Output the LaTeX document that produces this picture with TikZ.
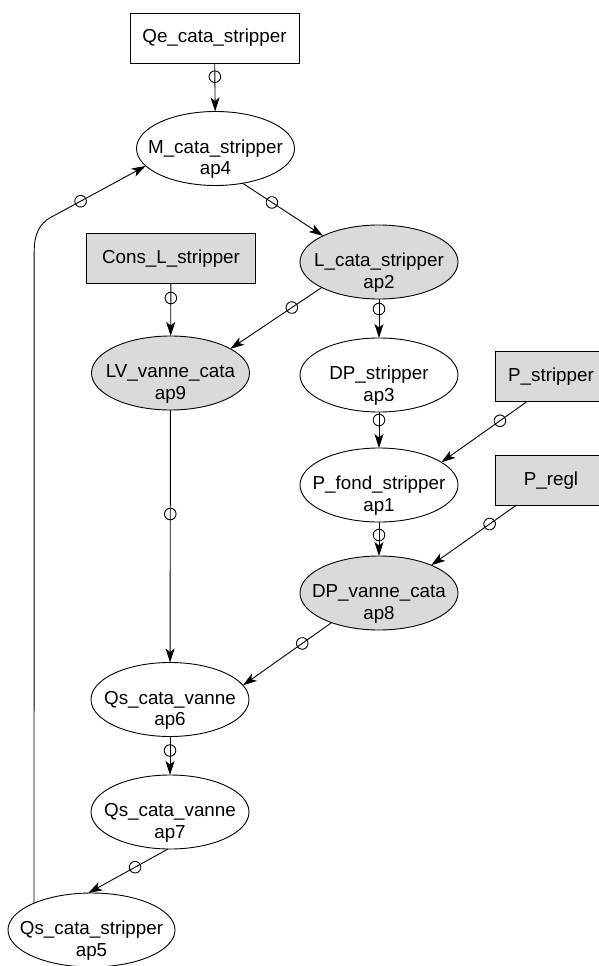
\documentclass[tikz,border=0pt]{standalone}
\usepackage{fontspec}
\setmainfont{Liberation Sans}
\usepackage{xcolor}
\usetikzlibrary{shapes,arrows.meta,decorations.markings}

\definecolor{nodegray}{RGB}{218,218,218}
\newcommand{\apfont}{\fontsize{18.8}{21.7}\selectfont}
\newcommand{\aplabel}[2]{\makebox[0pt]{\raisebox{0pt}[9pt][0pt]{\begin{tabular}[t]{@{}c@{}}#1\\#2\end{tabular}}}}

\begin{document}
\begin{tikzpicture}[
    x=1pt, y=-1pt,
    apnode/.style={ellipse, draw, line width=0.9pt, fill=white, minimum width=158pt, minimum height=74pt, inner sep=0pt, outer sep=0pt, font=\apfont},
    apgray/.style={apnode, fill=nodegray},
    inbox/.style={rectangle, draw, line width=0.9pt, fill=white, minimum width=169pt, minimum height=50pt, inner sep=0pt, outer sep=0pt, text height=10pt, text depth=0pt, font=\apfont},
    inboxgray/.style={inbox, fill=nodegray},
    edge/.style={line width=0.9pt, -{Stealth[length=14pt, width=9pt, inset=3.5pt]}},
    ring at/.style={decoration={markings, mark=at position #1 with {\draw[line width=0.9pt] (0,0) circle (5.8pt);}}, postaction={decorate}}
]
    \useasboundingbox (0,0) rectangle (599,966);
    \clip (0,0) rectangle (599,966);

    \node[inbox] (qe) at (214.5, 38) {Qe\_cata\_stripper};
    \node[apnode] (m) at (215.5, 148.5) {\aplabel{M\_cata\_stripper}{ap4}};
    \node[inboxgray] (consl) at (171, 258) {Cons\_L\_stripper};
    \node[apgray] (l) at (379, 262) {\aplabel{L\_cata\_stripper}{ap2}};
    \node[apgray] (lv) at (170.5, 373) {\aplabel{LV\_vanne\_cata}{ap9}};
    \node[apnode] (dp) at (379, 375) {\aplabel{DP\_stripper}{ap3}};
    \node[inboxgray, minimum width=112pt] (pstr) at (551, 376.7) {P\_stripper};
    \node[apnode] (pfond) at (379, 485) {\aplabel{P\_fond\_stripper}{ap1}};
    \node[inboxgray, minimum width=112pt] (preg) at (551, 480) {P\_regl};
    \node[apgray] (dpv) at (379, 593) {\aplabel{DP\_vanne\_cata}{ap8}};
    \node[apnode] (qs6) at (170, 699.5) {\aplabel{Qs\_cata\_vanne}{ap6}};
    \node[apnode] (qs7) at (170, 812) {\aplabel{Qs\_cata\_vanne}{ap7}};
    \node[apnode, minimum width=167pt] (qs5) at (91.5, 930) {\aplabel{Qs\_cata\_stripper}{ap5}};

    \coordinate (bend) at (34.2, 250);
    \coordinate (turn) at (50, 217.8);

    \draw[edge, ring at=13.7pt] (qe) -- (m);
    \draw[edge, ring at=35pt] (m.-52) -- (l.155);
    \draw[edge, ring at=15pt] (consl) -- (lv);
    \draw[edge, ring at=36pt] (l.-156) -- (lv.22);
    \draw[edge, ring at=10pt] (l) -- (dp);
    \draw[edge, ring at=8pt] (dp) -- (pfond);
    \draw[edge, ring at=33pt] (pstr.-134) -- (pfond.20);
    \draw[edge, ring at=13pt] (pfond) -- (dpv);
    \draw[edge, ring at=33pt] (preg.-144) -- (dpv.28);
    \draw[edge, ring at=36pt] (dpv.-148) -- (qs6.11);
    \draw[edge, ring at=104pt] (lv) -- (qs6);
    \draw[edge, ring at=14pt] (qs6) -- (qs7);
    \draw[edge, ring at=37.7pt] (qs7.-93) -- (qs5.95);
    \draw[edge, ring at=-74pt] (qs5.155) -- (bend) .. controls (34.2, 235) and (39.5, 223.6) .. (turn) -- (m.194);
\end{tikzpicture}
\end{document}
